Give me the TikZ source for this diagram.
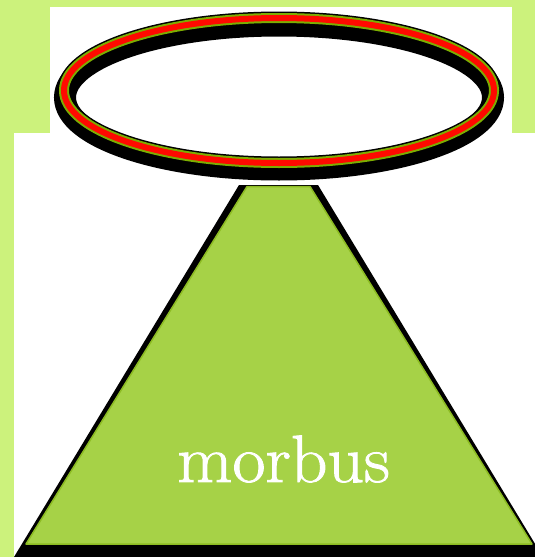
\documentclass[tikz,border=0pt]{standalone}
\usepackage{fontspec}
\newfontfamily\wordfont[FakeBold=1.3]{Latin Modern Roman}
\definecolor{bggreen}{HTML}{CCF27C}
\definecolor{trigreen}{HTML}{A6D247}
\definecolor{triedge}{HTML}{8CBB22}
\definecolor{ringgreen}{HTML}{7DAE00}
\definecolor{ringred}{HTML}{FF0A00}
\begin{document}
\begin{tikzpicture}[x=1pt,y=-1pt,
  shadowshape/.style={fill=black},
  label/.style={text=white,font=\wordfont\fontsize{67}{80}\selectfont,anchor=base,inner sep=0pt}]
\useasboundingbox (0,0) rectangle (535,557);
% background
\fill[bggreen] (0,0) rectangle (535,557);
\fill[white] (50,7) rectangle (512,133);
\fill[white] (14,133) rectangle (535,557);
% halo shadow
\draw[black,line width=22pt] (279,97.5) ellipse [x radius=214pt, y radius=72pt];
% halo ring
\draw[black,line width=13pt] (279,90.5) ellipse [x radius=215pt, y radius=72.5pt];
\draw[ringgreen,line width=10pt] (279,90.5) ellipse [x radius=215pt, y radius=72.5pt];
\draw[ringred,line width=6pt] (279,90.5) ellipse [x radius=215pt, y radius=72.5pt];
% triangle shadow
\fill[shadowshape] (239,185) -- (318,185) -- (543,557) -- (14,557) -- cycle;
% triangle
\filldraw[fill=trigreen,draw=triedge,line width=1.5pt,line join=round]
  (247,186.5) -- (310,186.5) -- (532,544) -- (26,544) -- cycle;
\node[label] (word) at (283.5,482) {\scalebox{1.07}[1]{morbus}};
\end{tikzpicture}
\end{document}
